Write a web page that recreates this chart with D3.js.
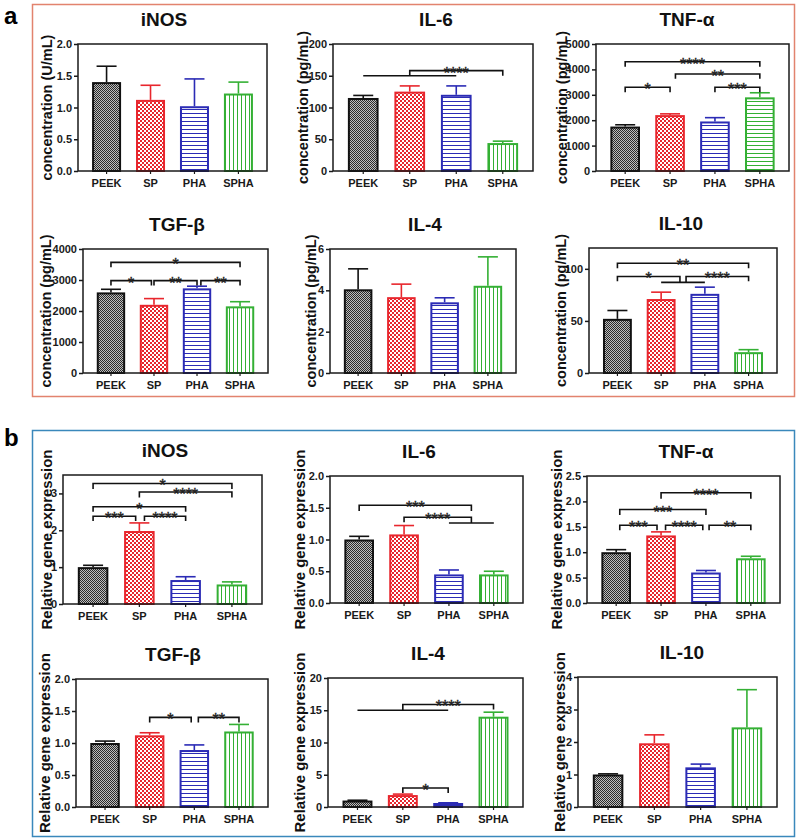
<!DOCTYPE html>
<html><head><meta charset="utf-8">
<script src="https://cdn.jsdelivr.net/npm/d3@7"></script>
<style>
body{margin:0;background:#fff}
svg{display:block}
text{font-family:Arial,"Liberation Sans",Helvetica,sans-serif}
</style>
</head><body>
<svg id="c" width="800" height="840"></svg>
<script>
// ---------- DATA ----------
const groups = ["PEEK", "SP", "PHA", "SPHA"];

// Panel a: protein concentration (mean, SD)
const aINOS = [1.40, 1.12, 1.02, 1.22],  aINOS_sd = [0.25, 0.23, 0.43, 0.18];
const aIL6  = [115, 125, 120, 44],       aIL6_sd  = [4, 9, 14, 3];
const aTNF  = [1750, 2200, 1950, 2900],  aTNF_sd  = [70, 50, 150, 180];
const aTGF  = [2600, 2200, 2730, 2150],  aTGF_sd  = [100, 200, 70, 150];
const aIL4  = [4.05, 3.67, 3.42, 4.22],  aIL4_sd  = [0.99, 0.63, 0.22, 1.40];
const aIL10 = [52, 71, 76, 20],          aIL10_sd = [8, 6.6, 6.4, 2.4];

// Panel b: relative gene expression (mean, SD)
const bINOS = [1.0, 1.98, 0.65, 0.53],   bINOS_sd = [0.05, 0.22, 0.09, 0.07];
const bIL6  = [1.0, 1.08, 0.45, 0.45],   bIL6_sd  = [0.05, 0.14, 0.07, 0.05];
const bTNF  = [1.0, 1.33, 0.60, 0.88],   bTNF_sd  = [0.05, 0.07, 0.04, 0.04];
const bTGF  = [1.0, 1.12, 0.89, 1.18],   bTGF_sd  = [0.03, 0.04, 0.08, 0.11];
const bIL4  = [1.0, 1.85, 0.62, 14.0],   bIL4_sd  = [0.05, 0.15, 0.03, 0.7];
const bIL10 = [1.0, 1.96, 1.22, 2.45],   bIL10_sd = [0.02, 0.26, 0.10, 1.16];

// y-axis tick values
const aINOS_ticks = [0, 0.5, 1.0, 1.5, 2.0];
const aIL6_ticks  = [0, 50, 100, 150, 200];
const aTNF_ticks  = [0, 1000, 2000, 3000, 4000, 5000];
const aTGF_ticks  = [0, 1000, 2000, 3000, 4000];
const aIL4_ticks  = [0, 2, 4, 6];
const aIL10_ticks = [0, 50, 100];
const bINOS_ticks = [0, 1, 2, 3];
const bIL6_ticks  = [0, 0.5, 1.0, 1.5, 2.0];
const bTNF_ticks  = [0, 0.5, 1.0, 1.5, 2.0, 2.5];
const bTGF_ticks  = [0, 0.5, 1.0, 1.5, 2.0];
const bIL4_ticks  = [0, 5, 10, 15, 20];
const bIL10_ticks = [0, 1, 2, 3, 4];

// significance brackets: a,b = group index ends; y = bracket level; la/lb = leg ends (data units)
const aIL6_sig  = [{a:1, b:3, y:158, la:150, lb:150, t:"****"}];
const aIL6_grp  = [{a:0, b:2, y:150}];
const aTNF_sig  = [{a:0, b:1, y:3300, la:3100, lb:3100, t:"*"},
                   {a:0, b:3, y:4300, la:4100, lb:4100, t:"****"},
                   {a:1.12, b:3, y:3820, la:3630, lb:3630, t:"**"},
                   {a:2, b:3, y:3300, la:3100, lb:3100, t:"***"}];
const aTGF_sig  = [{a:0, b:3, y:3570, la:3410, lb:3410, t:"*"},
                   {a:0, b:0.94, y:2980, la:2820, lb:2820, t:"*"},
                   {a:1, b:2, y:2980, la:2820, lb:2820, t:"**"},
                   {a:2.09, b:3, y:2980, la:2820, lb:2820, t:"**"}];
const aIL10_sig = [{a:0, b:3, y:105.4, la:100.6, lb:100.6, t:"**"},
                   {a:0, b:1.43, y:92.7, la:88, lb:87, t:"*"},
                   {a:1.57, b:3, y:92.7, la:87, lb:88, t:"****"}];
const aIL10_grp = [{a:1, b:2, y:87}];
const bINOS_sig = [{a:0, b:3, y:3.27, la:3.12, lb:3.12, t:"*"},
                   {a:1, b:3, y:3.04, la:2.89, lb:2.89, t:"****"},
                   {a:0, b:2, y:2.64, la:2.50, lb:2.50, t:"*"},
                   {a:0, b:0.92, y:2.38, la:2.25, lb:2.25, t:"***"},
                   {a:1.11, b:2, y:2.38, la:2.25, lb:2.25, t:"****"}];
const bIL6_sig  = [{a:0, b:2.5, y:1.54, la:1.45, lb:1.45, t:"***"},
                   {a:1, b:2.5, y:1.35, la:1.27, lb:1.26, t:"****"}];
const bIL6_grp  = [{a:2, b:3, y:1.26}];
const bTNF_sig  = [{a:1, b:3, y:2.17, la:2.05, lb:2.05, t:"****"},
                   {a:0.08, b:2, y:1.84, la:1.73, lb:1.73, t:"***"},
                   {a:0.08, b:0.91, y:1.53, la:1.43, lb:1.43, t:"***"},
                   {a:1.1, b:1.93, y:1.53, la:1.43, lb:1.43, t:"****"},
                   {a:2.07, b:3, y:1.53, la:1.43, lb:1.43, t:"**"}];
const bTGF_sig  = [{a:1, b:1.93, y:1.40, la:1.32, lb:1.32, t:"*"},
                   {a:2.09, b:3, y:1.40, la:1.32, lb:1.32, t:"**"}];
const bIL4_sig  = [{a:1, b:3, y:15.9, la:15, lb:15.1, t:"****"},
                   {a:1, b:2, y:2.95, la:2.17, lb:2.17, t:"*"}];
const bIL4_grp  = [{a:0, b:2, y:15}];

// ---------- LAYOUT ----------
const charts = [
  {title:"iNOS",  ylab:"concentration (U/mL)",  v:aINOS, sd:aINOS_sd, dom:[0,2],    ticks:aINOS_ticks, fmt:".1f", sig:[], grp:[], box:[78,267,44,171], tx:164, lx:47, h:false},
  {title:"IL-6",  ylab:"concentration (pg/mL)", v:aIL6,  sd:aIL6_sd,  dom:[0,200],  ticks:aIL6_ticks,  fmt:"d",   sig:aIL6_sig, grp:aIL6_grp, box:[333,533,44,171], tx:436, lx:303, h:false},
  {title:"TNF-α", ylab:"concentration (pg/mL)", v:aTNF,  sd:aTNF_sd,  dom:[0,5000], ticks:aTNF_ticks,  fmt:"d",   sig:aTNF_sig, grp:[], box:[596,789,44,171], tx:687, lx:562, h:true},
  {title:"TGF-β", ylab:"concentration (pg/mL)", v:aTGF,  sd:aTGF_sd,  dom:[0,4000], ticks:aTGF_ticks,  fmt:"d",   sig:aTGF_sig, grp:[], box:[83,268,249,373], tx:177, lx:46, h:false},
  {title:"IL-4",  ylab:"concentration (pg/mL)", v:aIL4,  sd:aIL4_sd,  dom:[0,6],    ticks:aIL4_ticks,  fmt:"d",   sig:[], grp:[], box:[330,516,249,373], tx:425, lx:311, h:false},
  {title:"IL-10", ylab:"concentration (pg/mL)", v:aIL10, sd:aIL10_sd, dom:[0,120],  ticks:aIL10_ticks, fmt:"d",   sig:aIL10_sig, grp:aIL10_grp, box:[589,777,248,373], tx:681, lx:561, h:false},
  {title:"iNOS",  ylab:"Relative gene expression", v:bINOS, sd:bINOS_sd, dom:[0,3.5], ticks:bINOS_ticks, fmt:"d",   sig:bINOS_sig, grp:[], box:[63,262,475,604], tx:165, lx:47, h:false},
  {title:"IL-6",  ylab:"Relative gene expression", v:bIL6,  sd:bIL6_sd,  dom:[0,2],   ticks:bIL6_ticks,  fmt:".1f", sig:bIL6_sig, grp:bIL6_grp, box:[330,523,476,603], tx:419, lx:300, h:false},
  {title:"TNF-α", ylab:"Relative gene expression", v:bTNF,  sd:bTNF_sd,  dom:[0,2.5], ticks:bTNF_ticks,  fmt:".1f", sig:bTNF_sig, grp:[], box:[587,780,476,603], tx:686, lx:557, h:false},
  {title:"TGF-β", ylab:"Relative gene expression", v:bTGF,  sd:bTGF_sd,  dom:[0,2],   ticks:bTGF_ticks,  fmt:".1f", sig:bTGF_sig, grp:[], box:[76,268,679,807], tx:173, lx:45, h:false},
  {title:"IL-4",  ylab:"Relative gene expression", v:bIL4,  sd:bIL4_sd,  dom:[0,20],  ticks:bIL4_ticks,  fmt:"d",   sig:bIL4_sig, grp:bIL4_grp, box:[328,523,678,807], tx:428, lx:300, h:false},
  {title:"IL-10", ylab:"Relative gene expression", v:bIL10, sd:bIL10_sd, dom:[0,4],   ticks:bIL10_ticks, fmt:"d",   sig:[], grp:[], box:[578,777,677,807], tx:682, lx:560, h:false}
];

const strokeCol = ["#111111", "#e8262d", "#2b2bb5", "#34b034"];
const svg = d3.select("#c");
const defs = svg.append("defs");

function pattern(id, size, bg, rects) {
  const p = defs.append("pattern").attr("id", id).attr("patternUnits", "userSpaceOnUse")
    .attr("width", size).attr("height", size);
  p.append("rect").attr("width", size).attr("height", size).attr("fill", bg);
  rects.forEach(r => p.append("rect").attr("x", r[0]).attr("y", r[1]).attr("width", r[2]).attr("height", r[3]).attr("fill", r[4]));
}
pattern("pPEEK", 2, "#bdbdbd", [[0,0,1,1,"#2a2a2a"],[1,1,1,1,"#2a2a2a"]]);
pattern("pSP", 4, "#ffffff", [[0,0,2,2,"#e8262d"],[2,2,2,2,"#e8262d"]]);
pattern("pPHA", 4, "#ffffff", [[0,1,4,1,"#2b2bb5"]]);
pattern("pSPHAv", 4, "#ffffff", [[1,0,1,4,"#34b034"]]);
pattern("pSPHAh", 4, "#ffffff", [[0,1,4,1,"#34b034"]]);

// panel boxes
svg.append("rect").attr("x", 32.5).attr("y", 4.5).attr("width", 762).attr("height", 392)
  .attr("fill", "none").attr("stroke", "#e2836e").attr("stroke-width", 1.5);
svg.append("rect").attr("x", 32.5).attr("y", 430.5).attr("width", 762).attr("height", 406)
  .attr("fill", "none").attr("stroke", "#3a88bb").attr("stroke-width", 1.5);
svg.append("text").attr("x", 4).attr("y", 24).attr("font-size", 24).attr("font-weight", "bold").text("a");
svg.append("text").attr("x", 4).attr("y", 446).attr("font-size", 24).attr("font-weight", "bold").text("b");

charts.forEach(c => {
  const [x0, x1, y0, y1] = c.box;
  const g = svg.append("g");
  const x = d3.scaleBand().domain(groups).range([x0, x1]).paddingInner(0.34).paddingOuter(0.32);
  const y = d3.scaleLinear().domain(c.dom).range([y1, y0]);
  const cx = i => x(groups[0]) + x.bandwidth() / 2 + i * x.step();
  const bw = x.bandwidth();

  // bars
  const fills = ["url(#pPEEK)", "url(#pSP)", "url(#pPHA)", c.h ? "url(#pSPHAh)" : "url(#pSPHAv)"];
  groups.forEach((gname, i) => {
    const top = y(c.v[i]);
    const etop = y(c.v[i] + c.sd[i]);
    g.append("line").attr("x1", cx(i)).attr("x2", cx(i)).attr("y1", top).attr("y2", etop)
      .attr("stroke", strokeCol[i]).attr("stroke-width", 1.6);
    g.append("line").attr("x1", cx(i) - 10).attr("x2", cx(i) + 10).attr("y1", etop).attr("y2", etop)
      .attr("stroke", strokeCol[i]).attr("stroke-width", 1.6);
    g.append("rect").attr("x", x(gname) + 1).attr("y", top + 1)
      .attr("width", bw - 2).attr("height", Math.max(0, y1 - top - 1))
      .attr("fill", fills[i]).attr("stroke", strokeCol[i]).attr("stroke-width", 2);
  });

  // frame
  g.append("rect").attr("x", x0).attr("y", y0).attr("width", x1 - x0).attr("height", y1 - y0)
    .attr("fill", "none").attr("stroke", "#1a1a1a").attr("stroke-width", 1.5);

  // y axis
  const ya = g.append("g").attr("transform", `translate(${x0},0)`)
    .call(d3.axisLeft(y).tickValues(c.ticks).tickSize(4).tickSizeOuter(0).tickPadding(2).tickFormat(d3.format(c.fmt)));
  ya.select(".domain").remove();
  ya.selectAll("line").attr("stroke", "#1a1a1a").attr("stroke-width", 1.5);
  ya.selectAll("text").attr("font-size", 11).attr("font-weight", "bold").attr("fill", "#1a1a1a")
    .style("font-family", "Arial, 'Liberation Sans', sans-serif");

  // x axis
  const xa = g.append("g").attr("transform", `translate(0,${y1})`)
    .call(d3.axisBottom(x).tickSize(3).tickSizeOuter(0).tickPadding(5));
  xa.select(".domain").remove();
  xa.selectAll("line").attr("stroke", "#1a1a1a").attr("stroke-width", 1.2);
  xa.selectAll("text").attr("font-size", 11).attr("font-weight", "bold").attr("fill", "#1a1a1a")
    .style("font-family", "Arial, 'Liberation Sans', sans-serif");

  // title
  g.append("text").attr("x", c.tx).attr("y", y0 - 18).attr("text-anchor", "middle")
    .attr("font-size", 19).attr("font-weight", "bold").attr("fill", "#111").text(c.title);

  // y label
  g.append("text").attr("transform", `translate(${c.lx},${(y0 + y1) / 2}) rotate(-90)`)
    .attr("text-anchor", "middle").attr("dy", "0.35em")
    .attr("font-size", c.ylab.startsWith("Relative") ? 15 : 14.5).attr("font-weight", "bold").attr("fill", "#111")
    .text(c.ylab);

  // group lines
  c.grp.forEach(l => {
    g.append("line").attr("x1", cx(l.a)).attr("x2", cx(l.b)).attr("y1", y(l.y)).attr("y2", y(l.y))
      .attr("stroke", "#111").attr("stroke-width", 1.6);
  });
  // brackets
  c.sig.forEach(s => {
    const xa_ = cx(s.a), xb_ = cx(s.b);
    g.append("path")
      .attr("d", `M${xa_},${y(s.la)}V${y(s.y)}H${xb_}V${y(s.lb)}`)
      .attr("fill", "none").attr("stroke", "#111").attr("stroke-width", 1.6);
    g.append("text").attr("x", (xa_ + xb_) / 2).attr("y", y(s.y) + 8)
      .attr("text-anchor", "middle").attr("font-size", 16)
      .attr("fill", "#222").attr("stroke", "#222").attr("stroke-width", 0.4)
      .text(s.t);
  });
});
</script>
</body></html>
